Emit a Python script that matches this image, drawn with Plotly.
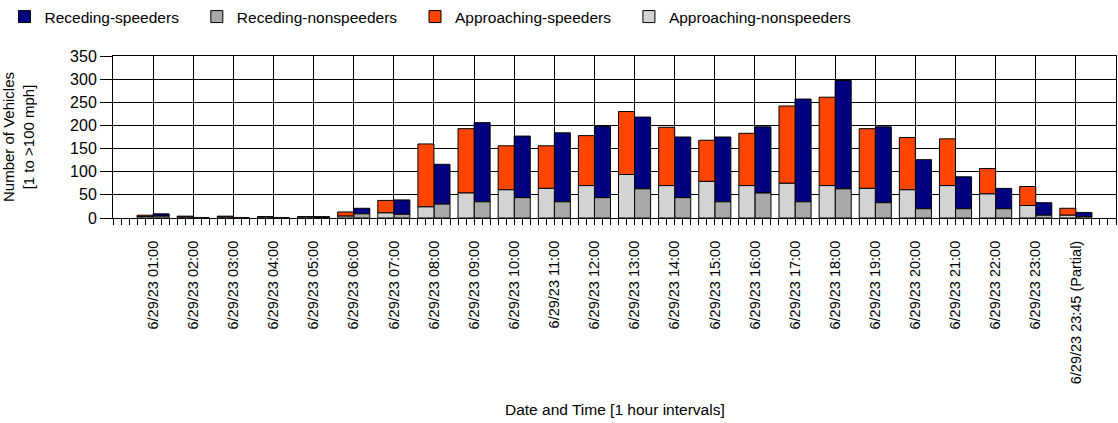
import plotly.graph_objects as go

# hourly bins
labels = [
    '6/29/23 01:00', '6/29/23 02:00', '6/29/23 03:00', '6/29/23 04:00',
    '6/29/23 05:00', '6/29/23 06:00', '6/29/23 07:00', '6/29/23 08:00',
    '6/29/23 09:00', '6/29/23 10:00', '6/29/23 11:00', '6/29/23 12:00',
    '6/29/23 13:00', '6/29/23 14:00', '6/29/23 15:00', '6/29/23 16:00',
    '6/29/23 17:00', '6/29/23 18:00', '6/29/23 19:00', '6/29/23 20:00',
    '6/29/23 21:00', '6/29/23 22:00', '6/29/23 23:00', '6/29/23 23:45 (Partial)',
]

approaching_nonspeeders = [3, 2, 2, 2, 2, 4, 11, 24, 54, 61, 64, 70,
                           94, 70, 79, 70, 75, 70, 64, 61, 70, 52, 27, 6]
approaching_speeders = [3, 2, 2, 1, 1, 9, 27, 136, 139, 95, 92, 108,
                        136, 126, 89, 113, 167, 191, 129, 113, 101, 55, 41, 15]
receding_nonspeeders = [4, 0, 0, 0, 1, 9, 8, 30, 35, 44, 35, 44,
                        63, 44, 35, 54, 35, 63, 33, 20, 20, 20, 6, 3]
receding_speeders = [5, 0, 0, 0, 2, 12, 31, 86, 171, 133, 149, 154,
                     155, 131, 140, 143, 222, 234, 164, 106, 69, 44, 27, 9]

x = list(range(len(labels)))
FONT = 'Liberation Sans'
PAD = '\u00a0' * 3  # a little extra room after each legend entry

fig = go.Figure()

def add_bar(name, y, color, offset, base=None):
    fig.add_trace(go.Bar(
        name=name + PAD, x=x, y=y, base=base,
        width=0.4, offset=offset,
        marker=dict(color=color, line=dict(color='black', width=1)),
    ))

add_bar('Receding-speeders', receding_speeders, '#000080', 0.0, base=receding_nonspeeders)
add_bar('Receding-nonspeeders', receding_nonspeeders, '#A9A9A9', 0.0)
add_bar('Approaching-speeders', approaching_speeders, '#FF4500', -0.4, base=approaching_nonspeeders)
add_bar('Approaching-nonspeeders', approaching_nonspeeders, '#D3D3D3', -0.4)

fig.update_layout(
    width=1118, height=423,
    margin=dict(l=113, r=2, t=56, b=205),
    barmode='overlay',
    plot_bgcolor='white', paper_bgcolor='white',
    font=dict(family=FONT, size=15, color='black'),
    showlegend=True,
    legend=dict(
        orientation='h', xref='container', yref='container',
        x=0.004, y=1.0, xanchor='left', yanchor='top',
        font=dict(size=15.5), traceorder='normal', itemwidth=30,
    ),
)

fig.update_xaxes(
    type='linear', range=[-1, 24], automargin=False,
    tickmode='array', tickvals=x, ticktext=labels, tickangle=-90,
    tickfont=dict(size=14.5),
    ticks='outside', ticklen=6, tickcolor='black', ticklabelstandoff=10,
    showgrid=True, gridcolor='black', gridwidth=1,
    showline=True, linecolor='black', linewidth=1, mirror=True,
    zeroline=False,
    minor=dict(tickmode='linear', tick0=0, dtick=0.2, ticks='outside',
               ticklen=6, tickcolor='black', showgrid=False),
)
fig.update_yaxes(
    range=[0, 350], dtick=50, automargin=False,
    ticks='outside', ticklen=12, tickcolor='black',
    tickfont=dict(size=16),
    showgrid=True, gridcolor='black', gridwidth=1,
    showline=True, linecolor='black', linewidth=1, mirror=True,
    zeroline=False,
)

fig.add_annotation(
    text='Number of Vehicles<br>[1 to >100 mph]', textangle=-90,
    xref='paper', yref='paper', x=-0.0947, y=0.5,
    xanchor='center', yanchor='middle', showarrow=False,
    font=dict(size=15),
)
fig.add_annotation(
    text='Date and Time [1 hour intervals]',
    xref='paper', yref='paper', x=0.5, y=-1.185,
    xanchor='center', yanchor='middle', showarrow=False,
    font=dict(size=15.5),
)

# drop the browser's default page margin so the figure sits at the window origin
fig.write_html('out.html', config={'displayModeBar': False},
               post_script="document.body.style.margin='0';")
